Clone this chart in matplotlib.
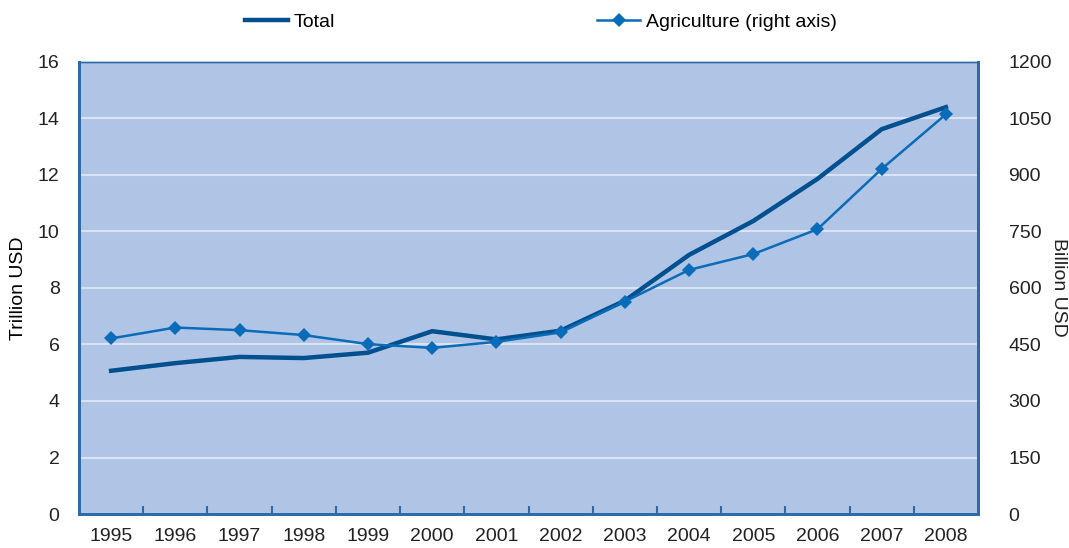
import numpy as np
import matplotlib
matplotlib.use('Agg')
from matplotlib import pyplot as plt
from matplotlib.ticker import FixedLocator, NullFormatter

plt.rcParams['font.family'] = ['Liberation Sans', 'DejaVu Sans']

years = ['1995', '1996', '1997', '1998', '1999', '2000', '2001',
         '2002', '2003', '2004', '2005', '2006', '2007', '2008']
total = [5.07, 5.34, 5.56, 5.52, 5.71, 6.47, 6.18,
         6.49, 7.55, 9.17, 10.37, 11.86, 13.62, 14.40]          # trillion USD
agriculture = [466, 495, 488, 475, 451, 441, 457,
               482, 564, 648, 690, 756, 916, 1061]              # billion USD

BG = '#b0c4e6'
SPINE = '#2e6aa8'
GRID = '#dae3f3'
C_TOTAL = '#00508f'
C_AGRI = '#0a6cb8'

fig = plt.figure(figsize=(10.69, 5.48), dpi=100)
ax = fig.add_axes([0.0739, 0.062, 0.841, 0.825])
ax2 = ax.twinx()

x = np.arange(len(years))
ax.set_facecolor(BG)
ax.set_xlim(-0.5, len(years) - 0.5)
ax.set_ylim(0, 16)
ax.set_yticks(np.arange(0, 17, 2))
ax.yaxis.grid(True, color=GRID, linewidth=1.5)
ax.set_axisbelow(True)

ax2.set_ylim(0, 1200)
ax2.set_yticks(np.arange(0, 1201, 150))

# category axis: labels at centres, short inward ticks at the boundaries
ax.set_xticks(x)
ax.set_xticklabels(years)
ax.tick_params(axis='x', which='major', length=0, pad=10, labelsize=14, colors='#222222')
ax.xaxis.set_minor_locator(FixedLocator(np.arange(0.5, len(years) - 1, 1)))
ax.xaxis.set_minor_formatter(NullFormatter())
ax.tick_params(axis='x', which='minor', direction='in', length=6, width=1.5, color=SPINE)
ax.tick_params(axis='y', length=0, pad=14, labelsize=14, labelcolor='#222222')
ax2.tick_params(axis='y', length=0, pad=22, labelsize=14, labelcolor='#222222')

for a in (ax, ax2):
    for side in ['left', 'right', 'bottom']:
        a.spines[side].set_color(SPINE)
        a.spines[side].set_linewidth(2)
    a.spines['top'].set_color(SPINE)
    a.spines['top'].set_linewidth(1)

ax.set_ylabel('Trillion USD', fontsize=14, labelpad=8)
fig.text(0.990, 0.476, 'Billion USD', fontsize=14, rotation=270,
         ha='center', va='center', color='#222222')

l1, = ax.plot(x, total, color=C_TOTAL, linewidth=3.2, solid_joinstyle='miter', zorder=3, label='Total')
l2, = ax2.plot(x, agriculture, color=C_AGRI, linewidth=1.8, marker='D', markersize=7,
               markeredgewidth=0, zorder=4, label='Agriculture (right axis)')

fig.legend(handles=[l1, l2], loc='center', bbox_to_anchor=(0.506, 0.96), ncol=2,
           frameon=False, fontsize=14, handlelength=2.2, handletextpad=0.3,
           columnspacing=13.5)

fig.savefig('out.png', dpi=100)
